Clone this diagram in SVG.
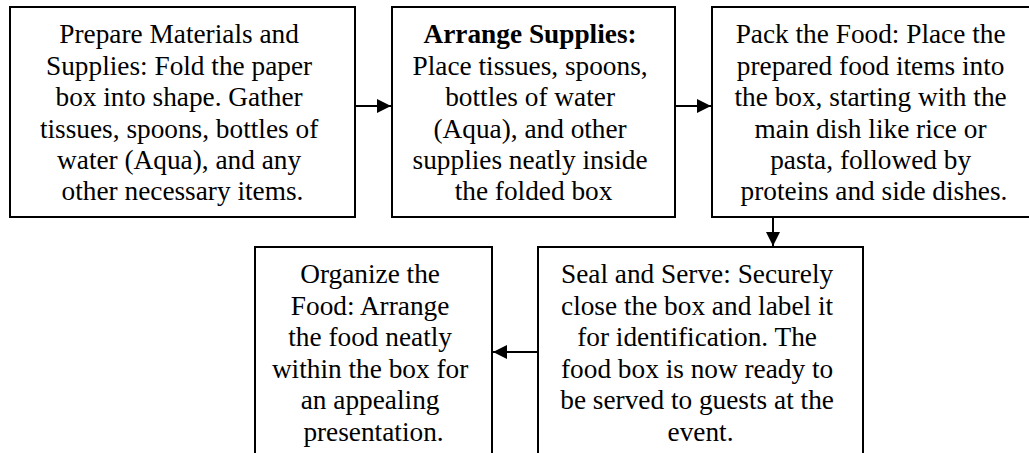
<svg xmlns="http://www.w3.org/2000/svg" width="1029" height="453" viewBox="0 0 1029 453">
  <style>
    .box { fill: #ffffff; stroke: #000000; stroke-width: 2; }
    .label { font-family: "Liberation Serif", "Times New Roman", serif; font-size: 27.3px; fill: #000000; text-anchor: middle; }
    .bold { font-weight: bold; }
    .link { fill: none; stroke: #000000; stroke-width: 2; }
  </style>
  <defs>
    <marker id="arrow" markerUnits="userSpaceOnUse" markerWidth="14" markerHeight="14" refX="14" refY="7" orient="auto">
      <path d="M0,0 L14,7 L0,14 Z" fill="#000000"/>
    </marker>
  </defs>

  <rect width="1029" height="453" fill="#ffffff"/>

  <g id="connectors">
    <line class="link" x1="355" y1="106" x2="391" y2="106" marker-end="url(#arrow)"/>
    <line class="link" x1="675" y1="106" x2="711" y2="106" marker-end="url(#arrow)"/>
    <line class="link" x1="773" y1="217" x2="773" y2="246" marker-end="url(#arrow)"/>
    <line class="link" x1="538" y1="352" x2="493" y2="352" marker-end="url(#arrow)"/>
  </g>

  <g id="prepare-materials">
    <rect class="box" x="10" y="7" width="345" height="210"/>
    <text class="label" x="182.5" y="43.3">
      <tspan x="182.5">Prepare Materials and</tspan>
      <tspan x="182.5" dy="31.4">Supplies: Fold the paper</tspan>
      <tspan x="182.5" dy="31.4">box into shape. Gather</tspan>
      <tspan x="182.5" dy="31.4">tissues, spoons, bottles of</tspan>
      <tspan x="182.5" dy="31.4">water (Aqua), and any</tspan>
      <tspan x="182.5" dy="31.4">other necessary items.</tspan>
    </text>
  </g>

  <g id="arrange-supplies">
    <rect class="box" x="392" y="7" width="283" height="210"/>
    <text class="label" x="533.5" y="43.3">
      <tspan class="bold" x="533.5">Arrange Supplies:</tspan>
      <tspan x="533.5" dy="31.4">Place tissues, spoons,</tspan>
      <tspan x="533.5" dy="31.4">bottles of water</tspan>
      <tspan x="533.5" dy="31.4">(Aqua), and other</tspan>
      <tspan x="533.5" dy="31.4">supplies neatly inside</tspan>
      <tspan x="533.5" dy="31.4">the folded box</tspan>
    </text>
  </g>

  <g id="pack-food">
    <rect class="box" x="712" y="7" width="324" height="210"/>
    <text class="label" x="874" y="43.3">
      <tspan x="874">Pack the Food: Place the</tspan>
      <tspan x="874" dy="31.4">prepared food items into</tspan>
      <tspan x="874" dy="31.4">the box, starting with the</tspan>
      <tspan x="874" dy="31.4">main dish like rice or</tspan>
      <tspan x="874" dy="31.4">pasta, followed by</tspan>
      <tspan x="874" dy="31.4">proteins and side dishes.</tspan>
    </text>
  </g>

  <g id="organize-food">
    <rect class="box" x="255" y="247" width="237" height="220"/>
    <text class="label" x="373.5" y="283">
      <tspan x="373.5">Organize the</tspan>
      <tspan x="373.5" dy="31.5">Food: Arrange</tspan>
      <tspan x="373.5" dy="31.5">the food neatly</tspan>
      <tspan x="373.5" dy="31.5">within the box for</tspan>
      <tspan x="373.5" dy="31.5">an appealing</tspan>
      <tspan x="373.5" dy="31.5">presentation.</tspan>
    </text>
  </g>

  <g id="seal-serve">
    <rect class="box" x="538" y="247" width="325" height="220"/>
    <text class="label" x="700.5" y="283">
      <tspan x="700.5">Seal and Serve: Securely</tspan>
      <tspan x="700.5" dy="31.5">close the box and label it</tspan>
      <tspan x="700.5" dy="31.5">for identification. The</tspan>
      <tspan x="700.5" dy="31.5">food box is now ready to</tspan>
      <tspan x="700.5" dy="31.5">be served to guests at the</tspan>
      <tspan x="700.5" dy="31.5">event.</tspan>
    </text>
  </g>
</svg>
